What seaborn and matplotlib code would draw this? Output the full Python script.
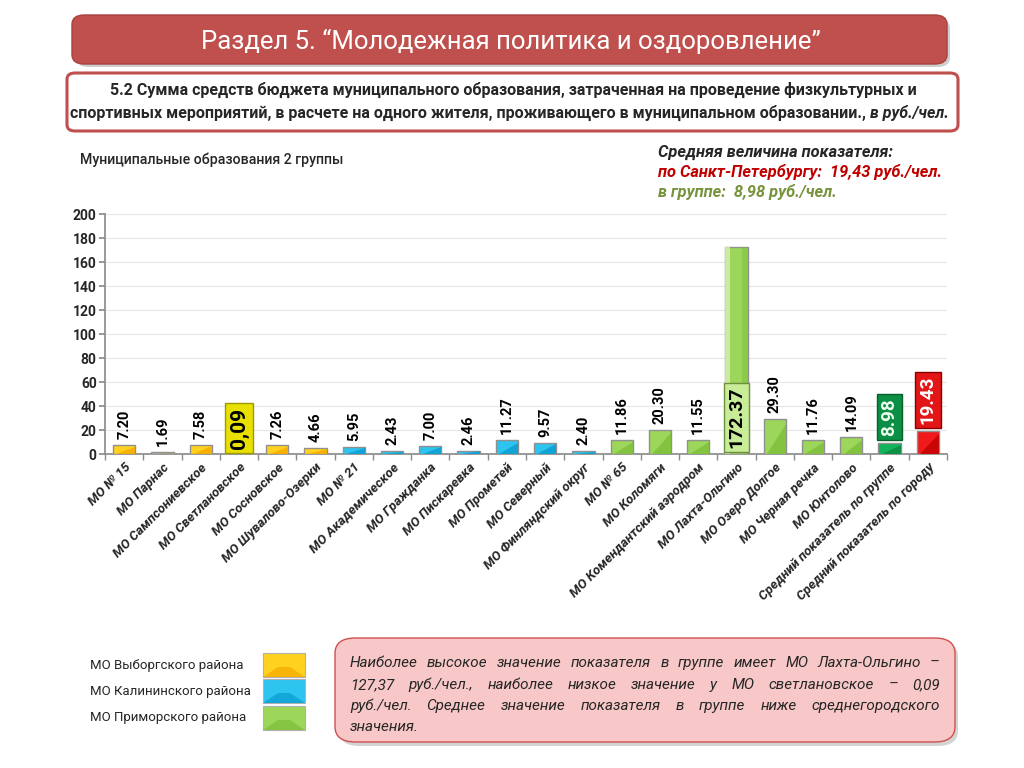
import numpy as np
import pandas as pd
import matplotlib
matplotlib.use("Agg")
import matplotlib.pyplot as plt
import seaborn as sns
from matplotlib.patches import FancyBboxPatch, Rectangle, Polygon

# ---------------- data ----------------
categories = [
    "МО № 15", "МО Парнас", "МО Сампсониевское", "МО Светлановское",
    "МО Сосновское", "МО Шувалово-Озерки", "МО № 21", "МО Академическое",
    "МО Гражданка", "МО Пискаревка", "МО Прометей", "МО Северный",
    "МО Финляндский округ", "МО № 65", "МО Коломяги",
    "МО Комендантский аэродром", "МО Лахта-Ольгино", "МО Озеро Долгое",
    "МО Черная речка", "МО Юнтолово", "Средний показатель по группе",
    "Средний показатель по городу",
]
values = [7.20, 1.69, 7.58, 0.09, 7.26, 4.66, 5.95, 2.43, 7.00, 2.46, 11.27,
          9.57, 2.40, 11.86, 20.30, 11.55, 172.37, 29.30, 11.76, 14.09,
          8.98, 19.43]
value_labels = ["7.20", "1.69", "7.58", "0,09", "7.26", "4.66", "5.95", "2.43",
                "7.00", "2.46", "11.27", "9.57", "2.40", "11.86", "20.30",
                "11.55", "172.37", "29.30", "11.76", "14.09", "8.98", "19.43"]
districts = (["Выборгский"] * 6 + ["Калининский"] * 7 + ["Приморский"] * 7
             + ["Группа", "Город"])
y_ticks = list(range(0, 201, 20))
legend_labels = ["МО Выборгского района", "МО Калининского района",
                 "МО Приморского района"]

title_text = "Раздел 5. “Молодежная политика и оздоровление”"
sub_line1 = "5.2 Сумма средств бюджета муниципального образования, затраченная на проведение физкультурных и"
sub_line2a = "спортивных мероприятий, в расчете на одного жителя, проживающего в муниципальном образовании.,"
sub_line2b = " в руб./чел."
group_text = "Муниципальные образования 2 группы"
avg_head = "Средняя величина показателя:"
avg_city = "по Санкт-Петербургу:  19,43 руб./чел."
avg_group = "в группе:  8,98 руб./чел."
note_lines = [
    "Наиболее высокое значение показателя в группе имеет МО Лахта-Ольгино –",
    "127,37 руб./чел., наиболее низкое значение у МО светлановское – 0,09",
    "руб./чел. Среднее значение показателя в группе ниже среднегородского",
    "значения.",
]

# ---------------- style ----------------
district_colors = {"Выборгский": "#FFD21F", "Калининский": "#2EC4F0",
                   "Приморский": "#9CD65A", "Группа": "#12B35A",
                   "Город": "#F01A1A"}
dark_colors = {"Выборгский": "#F5A800", "Калининский": "#0A9BD0",
               "Приморский": "#7DBF3A", "Группа": "#0A8A40",
               "Город": "#C00000"}
gray_bars = {"МО Парнас", "МО Светлановское"}
bar_colors = ["#BDB89C" if c in gray_bars else district_colors[d]
              for c, d in zip(categories, districts)]
bar_dark = ["#A09B80" if c in gray_bars else dark_colors[d]
            for c, d in zip(categories, districts)]

sns.set_theme(style="white")
plt.rcParams["font.family"] = ["Roboto", "DejaVu Sans"]

W, H = 1024, 768
fig = plt.figure(figsize=(W / 100, H / 100), dpi=100)
fig.patch.set_facecolor("white")


def fx(px):
    return px / W


def fy(py):
    return 1 - py / H


# ---------------- header banner ----------------
fig.add_artist(FancyBboxPatch((fx(76), fy(67)), fx(950) - fx(76), fy(19) - fy(67),
                              boxstyle="round,pad=0,rounding_size=0.012",
                              transform=fig.transFigure, fc="#9E9E9E", ec="none",
                              alpha=0.5, zorder=1))
fig.add_artist(FancyBboxPatch((fx(72), fy(64)), fx(947) - fx(72), fy(15) - fy(64),
                              boxstyle="round,pad=0,rounding_size=0.012",
                              transform=fig.transFigure, fc="#C0504D", ec="#A8403D",
                              lw=1, zorder=2))
fig.text(fx(511), fy(41), title_text, color="white", fontsize=18.5,
         ha="center", va="center", zorder=3)

# subtitle box
fig.add_artist(FancyBboxPatch((fx(67), fy(131)), fx(958) - fx(67), fy(73) - fy(131),
                              boxstyle="round,pad=0,rounding_size=0.008",
                              transform=fig.transFigure, fc="white", ec="#C0504D",
                              lw=2.2, zorder=2))
fig.text(fx(513), fy(90), sub_line1, fontsize=11.5, fontweight="bold",
         ha="center", va="center", zorder=3)
t2 = fig.text(fx(468), fy(113), sub_line2a, fontsize=11.5, fontweight="bold",
              ha="center", va="center", zorder=3)

fig.text(fx(80), fy(160), group_text, fontsize=10.2, fontweight="medium",
         ha="left", va="center")
fig.text(fx(658), fy(152), avg_head, fontsize=11.8, fontweight="bold",
         style="italic", ha="left", va="center")
fig.text(fx(658), fy(172), avg_city, fontsize=11.8, fontweight="bold",
         style="italic", color="#C00000", ha="left", va="center")
fig.text(fx(658), fy(192), avg_group, fontsize=11.8, fontweight="bold",
         style="italic", color="#77933C", ha="left", va="center")

# ---------------- chart ----------------
ax = fig.add_axes([fx(105), fy(454), fx(947) - fx(105), fy(214) - fy(454)])
df = pd.DataFrame({"cat": categories, "val": values})
sns.barplot(data=df, x="cat", y="val", hue="cat", palette=bar_colors,
            legend=False, width=0.58, edgecolor="#909090", linewidth=1.0,
            saturation=1, ax=ax, zorder=3)

# bevel-like shading on each bar
for p, dc in zip(ax.patches, bar_dark):
    x0, w, h = p.get_x(), p.get_width(), p.get_height()
    if h <= 0.5:
        continue
    if h < 40:
        tri = Polygon([(x0 + w * 0.15, 0), (x0 + w, 0), (x0 + w, h * 0.85)],
                      closed=True, fc=dc, ec="none", zorder=3.5, alpha=0.8)
        ax.add_patch(tri)
    else:
        ax.add_patch(Rectangle((x0 + w * 0.75, 0), w * 0.25, h, fc=dc, ec="none",
                               zorder=3.5, alpha=0.5))
        ax.add_patch(Rectangle((x0, 0), w * 0.2, h, fc="#D8F2B0", ec="none",
                               zorder=3.5, alpha=0.8))

ax.set_ylim(0, 200)
ax.set_xlim(-0.5, len(categories) - 0.5)
ax.set_yticks(y_ticks)
ax.set_yticklabels([str(v) for v in y_ticks], fontsize=10, fontweight="bold")
ax.yaxis.grid(True, color="#E6E6E6", lw=0.8, zorder=0)
ax.set_axisbelow(True)
for s in ["top", "right"]:
    ax.spines[s].set_visible(False)
ax.spines["left"].set_color("#8C8C8C")
ax.spines["bottom"].set_color("#8C8C8C")
ax.set_xlabel("")
ax.set_ylabel("")
ax.set_xticks(range(len(categories)))
ax.set_xticklabels(categories, rotation=45, ha="right", rotation_mode="anchor",
                   fontsize=9.5, fontweight="bold", style="italic")
ax.set_xticks(np.arange(-0.5, len(categories)), minor=True)
ax.tick_params(axis="x", which="major", length=0, pad=5)
ax.tick_params(axis="x", which="minor", length=4, color="#8C8C8C",
               direction="out", bottom=True)
ax.tick_params(axis="y", which="major", length=4, color="#8C8C8C",
               direction="out", left=True, pad=2)

# value labels
special = {
    "0,09": dict(y=21.7, fc="#E8E000", ec="#A09A00", tc="black", fs=15),
    "172.37": dict(y=30.4, fc="#C8EC98", ec="#6E8E40", tc="black", fs=14),
    "8.98": dict(y=30.8, fc="#0A8F45", ec="#075F2E", tc="#EFFFF0", fs=13.5),
    "19.43": dict(y=45.0, fc="#E21616", ec="#8A0000", tc="white", fs=13.5),
}
for i, (v, lab) in enumerate(zip(values, value_labels)):
    if lab in special:
        s = special[lab]
        ax.text(i, s["y"], lab, rotation=90, ha="center", va="center",
                fontsize=s["fs"], fontweight="bold", color=s["tc"], zorder=6,
                bbox=dict(boxstyle="square,pad=0.2", fc=s["fc"], ec=s["ec"], lw=1))
    else:
        ax.text(i, v + 5, lab, rotation=90, ha="center", va="bottom",
                fontsize=10.5, fontweight="bold", color="black", zorder=6)

# ---------------- legend ----------------
leg_y = [665, 691, 718]
leg_keys = ["Выборгский", "Калининский", "Приморский"]
for lab, yy, k in zip(legend_labels, leg_y, leg_keys):
    fig.text(fx(90), fy(yy), lab, fontsize=9.5, ha="left", va="center")
    fig.add_artist(Rectangle((fx(263), fy(yy + 12)), fx(42), fy(0) - fy(24),
                             transform=fig.transFigure, fc=district_colors[k],
                             ec="#B0B0B0", lw=0.8))
    fig.add_artist(Polygon([(fx(263), fy(yy + 12)), (fx(305), fy(yy + 12)),
                            (fx(290), fy(yy + 2)), (fx(278), fy(yy + 2))],
                           closed=True, transform=fig.transFigure,
                           fc=dark_colors[k], ec="none", alpha=0.7))

# ---------------- note box ----------------
fig.add_artist(FancyBboxPatch((fx(339), fy(746)), fx(958) - fx(339), fy(641) - fy(746),
                              boxstyle="round,pad=0,rounding_size=0.02",
                              transform=fig.transFigure, fc="#9E9E9E", ec="none",
                              alpha=0.45))
fig.add_artist(FancyBboxPatch((fx(335), fy(742)), fx(955) - fx(335), fy(638) - fy(742),
                              boxstyle="round,pad=0,rounding_size=0.02",
                              transform=fig.transFigure, fc="#F8C8C8", ec="#D05050",
                              lw=1))

fig.canvas.draw()
renderer = fig.canvas.get_renderer()

# italic tail of subtitle line 2
bb = t2.get_window_extent(renderer)
fig.text(bb.x1 / W, fy(113), sub_line2b, fontsize=11.5, fontweight="bold",
         style="italic", ha="left", va="center", zorder=3)

x_left, x_right = 350, 940
line_y = [663, 685, 706, 727]
a1 = fig.text(0, 0, "a", fontsize=11, style="italic")
a2 = fig.text(0, 0, "a a", fontsize=11, style="italic")
sp = a2.get_window_extent(renderer).width - 2 * a1.get_window_extent(renderer).width
a1.remove()
a2.remove()
for li, (line, yy) in enumerate(zip(note_lines, line_y)):
    words = line.split(" ")
    objs = [fig.text(fx(x_left), fy(yy), w_, fontsize=11, style="italic",
                     ha="left", va="center") for w_ in words]
    widths = [o.get_window_extent(renderer).width for o in objs]
    if li < len(note_lines) - 1 and len(words) > 1:
        gap = (x_right - x_left - sum(widths)) / (len(words) - 1)
    else:
        gap = sp
    xcur = x_left
    for o, wd in zip(objs, widths):
        o.set_x(fx(xcur))
        xcur += wd + gap

fig.savefig("out.png", dpi=100, facecolor="white")
